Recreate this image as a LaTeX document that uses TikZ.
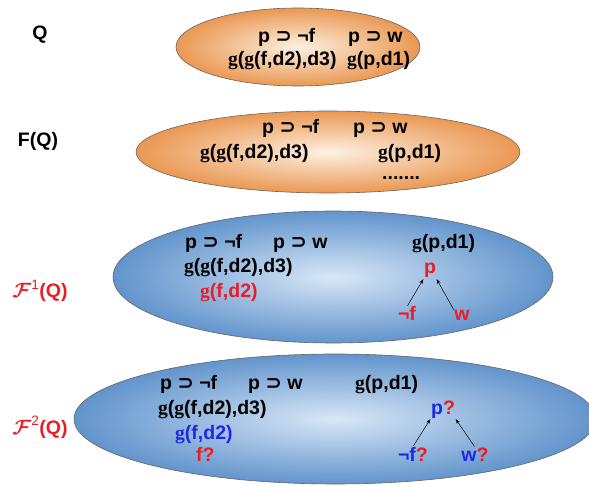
\documentclass[tikz,border=0pt]{standalone}
\usepackage{amsmath}
\usepackage{fontspec}
\setmainfont{Liberation Sans}
\newfontfamily\symf{DejaVu Sans}
\newfontfamily\gfont{Liberation Serif}
\usetikzlibrary{arrows.meta,shapes.geometric}
\definecolor{orout}{RGB}{234,152,82}
\definecolor{orin}{RGB}{253,240,226}
\definecolor{blout}{RGB}{98,148,204}
\definecolor{blin}{RGB}{216,231,247}
\definecolor{rd}{RGB}{236,28,36}
\definecolor{bl}{RGB}{30,40,230}
\newcommand{\sps}{{\symf\bfseries ⊃}}
\newcommand{\gx}{{\gfont\bfseries g}}
\newcommand{\calF}[1]{$\boldsymbol{\mathcal{F}}^{\mathrm{#1}}$}
\tikzset{
  ell/.style={ellipse, draw=black!60, line width=0.6pt, inner sep=0pt},
  orell/.style={ell, inner color=orin, outer color=orout},
  blell/.style={ell, inner color=blin, outer color=blout},
  txt/.style={font=\fontsize{19.5}{22}\selectfont\bfseries, inner sep=0pt, anchor=base west},
  lbl/.style={txt, anchor=base},
  arr/.style={-{Stealth[length=5pt,width=3.5pt]}, line width=0.5pt, black, shorten <=1pt, shorten >=1pt}
}
\begin{document}
\begin{tikzpicture}[x=1pt,y=-1pt]
\useasboundingbox (0,0) rectangle (589,486);
\clip (0,0) rectangle (589,486);
% ellipses
\node[orell, minimum width=244pt, minimum height=78pt] (e1) at (298,47) {};
\node[orell, minimum width=384pt, minimum height=82pt] (e2) at (328,152) {};
\node[blell, minimum width=440pt, minimum height=132pt] (e3) at (333,277) {};
\node[blell, minimum width=522pt, minimum height=130pt] (e4) at (335,419) {};
% side labels
\node[lbl] (lq) at (40,40) {Q};
\node[lbl] (lfq) at (38,147) {F(Q)};
\node[lbl, text=rd] (lf1) at (40,298) {\calF{1}(Q)};
\node[lbl, text=rd] (lf2) at (40,434) {\calF{2}(Q)};
% Q
\node[txt] (a1) at (258,43) {p \sps\ ¬f};
\node[txt] (a2) at (348,43) {p \sps\ w};
\node[txt] (a3) at (228,66) {\gx(\gx(f,d2),d3)};
\node[txt] (a4) at (347,66) {\gx(p,d1)};
% F(Q)
\node[txt] (b1) at (262,134) {p \sps\ ¬f};
\node[txt] (b2) at (353,134) {p \sps\ w};
\node[txt] (b3) at (200,159) {\gx(\gx(f,d2),d3)};
\node[txt] (b4) at (378,159) {\gx(p,d1)};
\node[txt] (b5) at (382,180) {.......};
% F1
\node[txt] (c1) at (185,249) {p \sps\ ¬f};
\node[txt] (c2) at (273,249) {p \sps\ w};
\node[txt] (c3) at (184,273) {\gx(\gx(f,d2),d3)};
\node[txt, text=rd] (c4) at (200,298) {\gx(f,d2)};
\node[txt] (c5) at (412,249) {\gx(p,d1)};
\node[lbl, text=rd] (cp) at (430,274) {p};
\node[lbl, text=rd] (cnf) at (407,321) {¬f};
\node[lbl, text=rd] (cw) at (462,321) {w};
\draw[arr] (cnf.north) -- (cp.south west);
\draw[arr] (cw.north west) -- (cp.south east);
% F2
\node[txt] (d1) at (160,389) {p \sps\ ¬f};
\node[txt] (d2) at (248,389) {p \sps\ w};
\node[txt] (d3) at (355,389) {\gx(p,d1)};
\node[txt] (d4) at (158,414) {\gx(\gx(f,d2),d3)};
\node[txt, text=bl] (d5) at (175,439) {\gx(f,d2)};
\node[txt, text=rd] (d6) at (196,461) {f?};
\node[lbl] (dp) at (443,414) {\textcolor{bl}{p}\textcolor{rd}{?}};
\node[lbl] (dnf) at (413,461) {\textcolor{bl}{¬f}\textcolor{rd}{?}};
\node[lbl] (dw) at (475,461) {\textcolor{bl}{w}\textcolor{rd}{?}};
\draw[arr] (dnf.north) -- (dp.south west);
\draw[arr] (dw.north) -- (dp.south east);
\end{tikzpicture}
\end{document}
